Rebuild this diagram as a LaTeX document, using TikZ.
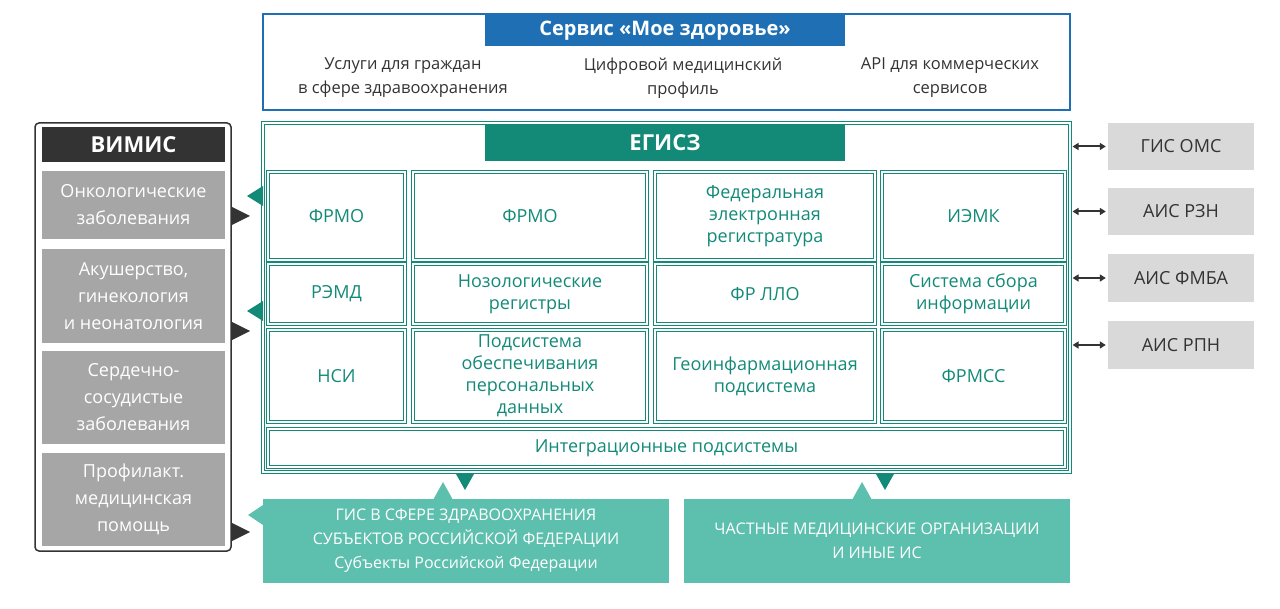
\documentclass[tikz,border=0pt]{standalone}
\usepackage{fontspec}
\setmainfont{Open Sans}
\usetikzlibrary{arrows.meta}
\definecolor{tealc}{HTML}{138A78}
\definecolor{teall}{HTML}{5DBFAD}
\definecolor{bluec}{HTML}{1F6FB5}
\definecolor{grayc}{HTML}{A6A6A6}
\definecolor{lgray}{HTML}{D9D9D9}
\definecolor{darkc}{HTML}{333333}
\newcommand{\bx}[7]{\node[#6, minimum width={(#4-#2)*1pt}, minimum height={(#5-#3)*1pt}] (#1) at ({(#2+#4)/2},{(#3+#5)/2}) {#7};}
\tikzset{
 cellb/.style={draw=tealc, double=white, double distance=1.6pt, line width=1.1pt, inner sep=0pt, align=center, text=tealc, font=\fontsize{18}{22}\selectfont},
 grayb/.style={fill=grayc, text=white, align=center, inner sep=0pt, font=\fontsize{18}{27}\selectfont},
 rgray/.style={fill=lgray, text=darkc, align=center, inner sep=0pt, font=\fontsize{18}{22}\selectfont},
 tealb/.style={fill=teall, text=white, align=center, inner sep=0pt, font=\fontsize{16}{24}\selectfont},
 plain/.style={align=center, inner sep=0pt, text=darkc, font=\fontsize{16.5}{24}\selectfont},
 dbl/.style={{Triangle[length=6pt,width=7pt]}-{Triangle[length=6pt,width=7pt]}, line width=2pt, draw=darkc},
}
\begin{document}
\begin{tikzpicture}[x=1pt,y=-1pt]
\useasboundingbox (0,0) rectangle (1280,609);
% top service
\bx{srv}{263}{14}{1070}{110}{draw=bluec, line width=1.5pt}{}
\bx{srvt}{485}{15}{845}{46}{fill=bluec, text=white, font=\fontsize{20}{24}\selectfont\bfseries}{Сервис «Мое здоровье»}
\node[plain] (s1) at (403,78) {Услуги для граждан\\в сфере здравоохранения};
\node[plain] (s2) at (683,78) {Цифровой медицинский\\профиль};
\node[plain] (s3) at (950,78) {API для коммерческих\\сервисов};
% EGISZ
\bx{eg}{263}{123}{1070}{472}{draw=tealc, double=white, double distance=1.6pt, line width=1.1pt}{}
\bx{egt}{485}{124}{845}{161}{fill=tealc, text=white, font=\fontsize{22}{26}\selectfont\bfseries}{ЕГИСЗ}
\bx{c11}{268}{172}{405}{260}{cellb}{ФРМО}
\bx{c12}{413}{172}{647}{260}{cellb}{ФРМО}
\bx{c13}{655}{172}{875}{260}{cellb}{Федеральная\\электронная\\регистратура}
\bx{c14}{882}{172}{1065}{260}{cellb}{ИЭМК}
\bx{c21}{268}{264}{405}{324}{cellb}{РЭМД}
\bx{c22}{413}{264}{647}{324}{cellb}{Нозологические\\регистры}
\bx{c23}{655}{264}{875}{324}{cellb}{ФР ЛЛО}
\bx{c24}{882}{264}{1065}{324}{cellb}{Система сбора\\информации}
\bx{c31}{268}{330}{405}{422}{cellb}{НСИ}
\bx{c32}{413}{330}{647}{422}{cellb}{Подсистема\\обеспечивания\\персональных\\данных}
\bx{c33}{655}{330}{875}{422}{cellb}{Геоинфармационная\\подсистема}
\bx{c34}{882}{330}{1065}{422}{cellb}{ФРМСС}
\bx{c4}{268}{429}{1065}{467}{cellb}{Интеграционные подсистемы}
% VIMIS
\bx{vm}{35}{123}{231}{551}{draw=darkc, line width=1.5pt, rounded corners=4pt}{}
\bx{vmt}{42}{127}{225}{162}{fill=darkc, text=white, font=\fontsize{22}{26}\selectfont\bfseries}{ВИМИС}
\bx{v1}{42}{171}{225}{239}{grayb}{Онкологические\\заболевания}
\bx{v2}{42}{249}{225}{343}{grayb}{Акушерство,\\гинекология\\и неонатология}
\bx{v3}{42}{351}{225}{444}{grayb}{Сердечно-\\сосудистые\\заболевания}
\bx{v4}{42}{453}{225}{546}{grayb}{Профилакт.\\медицинская\\помощь}
% triangles left
\foreach \yy in {216,331,532}{\fill[darkc] (232,\yy-9) -- (250,\yy) -- (232,\yy+9) -- cycle;}
\foreach \yy in {196,311}{\fill[tealc] (263,\yy-10) -- (247,\yy) -- (263,\yy+10) -- cycle;}
% right boxes
\bx{r1}{1108}{123}{1254}{170}{rgray}{ГИС ОМС}
\bx{r2}{1108}{188}{1254}{235}{rgray}{АИС РЗН}
\bx{r3}{1108}{254}{1254}{302}{rgray}{АИС ФМБА}
\bx{r4}{1108}{321}{1254}{369}{rgray}{АИС РПН}
\foreach \r in {r1,r2,r3,r4}{\draw[dbl] (eg.east |- \r.west) ++(2,0) -- ([xshift=-2pt]\r.west);}
% bottom
\bx{b1}{263}{499}{669}{583}{tealb}{ГИС В СФЕРЕ ЗДРАВООХРАНЕНИЯ\\СУБЪЕКТОВ РОССИЙСКОЙ ФЕДЕРАЦИИ\\Субъекты Российской Федерации}
\bx{b2}{684}{499}{1070}{583}{tealb}{ЧАСТНЫЕ МЕДИЦИНСКИЕ ОРГАНИЗАЦИИ\\И ИНЫЕ ИС}
\fill[teall] (263,505) -- (248,515) -- (263,525) -- cycle;
\fill[teall] (433,500) -- (443,482) -- (453,500) -- cycle;
\fill[teall] (852,500) -- (862,482) -- (872,500) -- cycle;
\fill[tealc] (456,474) -- (474,474) -- (465,490) -- cycle;
\fill[tealc] (876,474) -- (894,474) -- (885,490) -- cycle;
\end{tikzpicture}
\end{document}
